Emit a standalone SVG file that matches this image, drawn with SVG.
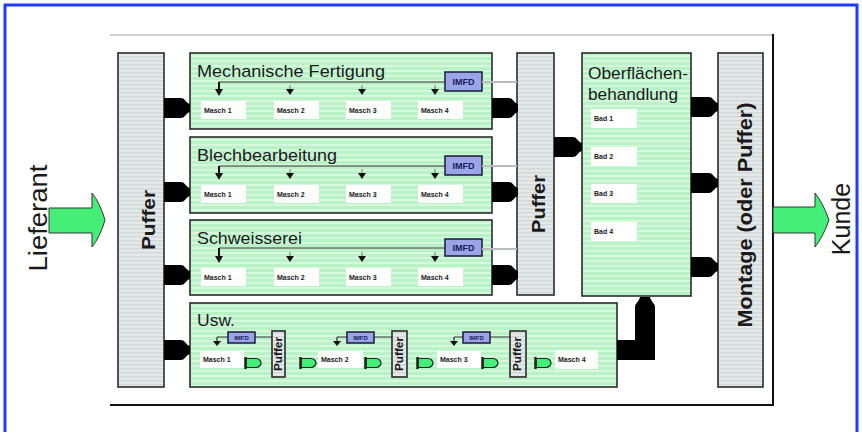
<svg xmlns="http://www.w3.org/2000/svg" width="862" height="432" viewBox="0 0 862 432">
<defs>
<pattern id="gstripe" width="6" height="5" patternUnits="userSpaceOnUse"><rect width="6" height="5" fill="#b9f2c7"/><rect width="6" height="2" fill="#d6f9de"/></pattern>
<pattern id="pstripe" width="6" height="4" patternUnits="userSpaceOnUse"><rect width="6" height="4" fill="#e4e8e8"/><rect width="6" height="1.5" fill="#d3d8d8"/></pattern>
<g id="gd"><path d="M1,-4.5 H11 C14,-4.5 16,-2 16,0 C16,2 14,4.5 11,4.5 H1 Z" fill="#44ee77" stroke="#222" stroke-width="1.2"/><path d="M0.5,-6 V6" stroke="#222" stroke-width="2.5"/></g>
<g id="ah"><path d="M0,-5 V0" stroke="#777" stroke-width="1"/><polygon points="-4,-1 4,-1 0,5" fill="#111"/></g>
</defs>
<style>
.blk{fill:url(#gstripe);stroke:#2b2b2b;stroke-width:1.6}
.puf{fill:url(#pstripe);stroke:#2b2b2b;stroke-width:1.6}
.t{font-family:"Liberation Sans",Arial,sans-serif;fill:#1a1a1a}
.title{font-size:17px}
.pt{font-weight:bold;text-anchor:middle}
.lbl{font-size:7px;font-weight:bold}
.mbox{fill:#fff}
.imfd{fill:#9aa4e6;stroke:#1a1a3a;stroke-width:1.5}
.imfdt{font-size:9px;font-weight:bold;fill:#1a1a60;text-anchor:middle}
.imfds{font-size:6px;font-weight:bold;fill:#1a1a60;text-anchor:middle}
.con{fill:#000}
.ln{stroke:#333;stroke-width:1;fill:none}
.gl{stroke:#b5bdbd;stroke-width:2;fill:none}
.arr{fill:#44ee77;stroke:#333;stroke-width:1}
</style>
<rect width="862" height="432" fill="#fff"/>
<rect x="5" y="5" width="852" height="432" fill="none" stroke="#1f3bff" stroke-width="3"/>

<g id="frame">
<line x1="110" y1="35" x2="773" y2="35" stroke="#d0d0d0" stroke-width="2"/>
<line x1="773" y1="34" x2="773" y2="405" stroke="#111" stroke-width="2"/>
<line x1="110" y1="405" x2="774" y2="405" stroke="#111" stroke-width="2"/>
</g>

<g id="lieferant">
<path class="arr" d="M49,208 H92 V193 Q100,203 105,220 Q100,237 92,247 V233 H49 Z"/>
<text class="t" font-size="25" text-anchor="middle" textLength="107" lengthAdjust="spacingAndGlyphs" transform="translate(47,218) rotate(-90)">Lieferant</text>
</g>

<g id="kunde">
<path class="arr" d="M773,207 H815 V193 Q823,203 829,220 Q823,237 815,247 V233 H773 Z"/>
<text class="t" font-size="25" text-anchor="middle" transform="translate(850,219) rotate(-90)">Kunde</text>
</g>

<g id="puffer-left">
<rect class="puf" x="118" y="53" width="46" height="334"/>
<text class="t pt" font-size="19" textLength="60" lengthAdjust="spacingAndGlyphs" transform="translate(155,220) rotate(-90)">Puffer</text>
</g>

<g id="mech">
<rect class="blk" x="190" y="53" width="302" height="76"/>
<text class="t title" x="197" y="77" textLength="188" lengthAdjust="spacingAndGlyphs">Mechanische Fertigung</text>
<line class="ln" x1="219" y1="82" x2="445" y2="82"/>
<rect class="imfd" x="445" y="72" width="37" height="19"/>
<text class="t imfdt" x="463.5" y="85">IMFD</text>
<path d="M219,82 V91" stroke="#111" stroke-width="2"/><polygon points="215,89 223,89 219,96" fill="#111"/>
<use href="#ah" x="290" y="90"/><use href="#ah" x="362" y="90"/><use href="#ah" x="435" y="90"/>
<rect class="mbox" x="201" y="101" width="45" height="18"/><text class="t lbl" x="204" y="113">Masch 1</text>
<rect class="mbox" x="274" y="101" width="45" height="18"/><text class="t lbl" x="277" y="113">Masch 2</text>
<rect class="mbox" x="346" y="101" width="45" height="18"/><text class="t lbl" x="349" y="113">Masch 3</text>
<rect class="mbox" x="418" y="101" width="45" height="18"/><text class="t lbl" x="421" y="113">Masch 4</text>
</g>

<g id="blech" transform="translate(0,84)">
<rect class="blk" x="190" y="53" width="302" height="76"/>
<text class="t title" x="197" y="77" textLength="140" lengthAdjust="spacingAndGlyphs">Blechbearbeitung</text>
<line class="ln" x1="219" y1="82" x2="445" y2="82"/>
<rect class="imfd" x="445" y="72" width="37" height="19"/>
<text class="t imfdt" x="463.5" y="85">IMFD</text>
<path d="M219,82 V91" stroke="#111" stroke-width="2"/><polygon points="215,89 223,89 219,96" fill="#111"/>
<use href="#ah" x="290" y="90"/><use href="#ah" x="362" y="90"/><use href="#ah" x="435" y="90"/>
<rect class="mbox" x="201" y="101" width="45" height="18"/><text class="t lbl" x="204" y="113">Masch 1</text>
<rect class="mbox" x="274" y="101" width="45" height="18"/><text class="t lbl" x="277" y="113">Masch 2</text>
<rect class="mbox" x="346" y="101" width="45" height="18"/><text class="t lbl" x="349" y="113">Masch 3</text>
<rect class="mbox" x="418" y="101" width="45" height="18"/><text class="t lbl" x="421" y="113">Masch 4</text>
</g>

<g id="schweisserei" transform="translate(0,167)">
<rect class="blk" x="190" y="53" width="302" height="75"/>
<text class="t title" x="197" y="77" textLength="105" lengthAdjust="spacingAndGlyphs">Schweisserei</text>
<line class="ln" x1="219" y1="81" x2="445" y2="81"/>
<rect class="imfd" x="445" y="72" width="37" height="17"/>
<text class="t imfdt" x="463.5" y="84">IMFD</text>
<path d="M219,81 V91" stroke="#111" stroke-width="2"/><polygon points="215,89 223,89 219,96" fill="#111"/>
<use href="#ah" x="290" y="90"/><use href="#ah" x="362" y="90"/><use href="#ah" x="435" y="90"/>
<rect class="mbox" x="201" y="101" width="45" height="18"/><text class="t lbl" x="204" y="113">Masch 1</text>
<rect class="mbox" x="274" y="101" width="45" height="18"/><text class="t lbl" x="277" y="113">Masch 2</text>
<rect class="mbox" x="346" y="101" width="45" height="18"/><text class="t lbl" x="349" y="113">Masch 3</text>
<rect class="mbox" x="418" y="101" width="45" height="18"/><text class="t lbl" x="421" y="113">Masch 4</text>
</g>

<g id="usw">
<rect class="blk" x="190" y="303" width="427" height="84"/>
<text class="t title" x="197" y="326" textLength="38" lengthAdjust="spacingAndGlyphs">Usw.</text>
<path class="ln" d="M217,337 H228 M255,337 H272 M337,337 H347 M374,337 H392 M454,337 H463 M490,337 H510" stroke-width="1.3"/>
<path d="M217,337 V342 M337,337 V342 M454,337 V342" stroke="#111" stroke-width="1"/>
<polygon points="213,341 221,341 217,346" fill="#111"/>
<polygon points="333,341 341,341 337,346" fill="#111"/>
<polygon points="450,341 458,341 454,346" fill="#111"/>
<rect class="imfd" x="228" y="332" width="27" height="11"/><text class="t imfds" x="241.5" y="340">IMFD</text>
<rect class="imfd" x="347" y="332" width="27" height="11"/><text class="t imfds" x="360.5" y="340">IMFD</text>
<rect class="imfd" x="463" y="332" width="27" height="11"/><text class="t imfds" x="476.5" y="340">IMFD</text>
<rect class="puf" x="272" y="331" width="13" height="46"/>
<text class="t pt" font-size="10" textLength="34" lengthAdjust="spacingAndGlyphs" transform="translate(282,354) rotate(-90)">Puffer</text>
<rect class="puf" x="392" y="331" width="15" height="46"/>
<text class="t pt" font-size="10" textLength="34" lengthAdjust="spacingAndGlyphs" transform="translate(403,354) rotate(-90)">Puffer</text>
<rect class="puf" x="510" y="331" width="16" height="46"/>
<text class="t pt" font-size="10" textLength="34" lengthAdjust="spacingAndGlyphs" transform="translate(521,354) rotate(-90)">Puffer</text>
<rect class="mbox" x="200" y="351" width="44" height="17"/><text class="t lbl" x="203" y="362">Masch 1</text>
<rect class="mbox" x="318" y="351" width="45" height="17"/><text class="t lbl" x="321" y="362">Masch 2</text>
<rect class="mbox" x="437" y="351" width="44" height="17"/><text class="t lbl" x="440" y="362">Masch 3</text>
<rect class="mbox" x="555" y="350" width="43" height="19"/><text class="t lbl" x="558" y="362">Masch 4</text>
<use href="#gd" x="245" y="363"/><use href="#gd" x="300" y="363"/>
<use href="#gd" x="365" y="363"/><use href="#gd" x="417" y="363"/>
<use href="#gd" x="482" y="363"/><use href="#gd" x="535" y="363"/>
</g>

<g id="puffer-mid">
<rect class="puf" x="517" y="53" width="37" height="242"/>
<text class="t pt" font-size="19" textLength="58" lengthAdjust="spacingAndGlyphs" transform="translate(545,204) rotate(-90)">Puffer</text>
</g>

<g id="oberflaeche">
<rect class="blk" x="582" y="53" width="109" height="243"/>
<text class="t title" x="588" y="79" textLength="100" lengthAdjust="spacingAndGlyphs">Oberflächen-</text>
<text class="t title" x="588" y="100" textLength="90" lengthAdjust="spacingAndGlyphs">behandlung</text>
<rect class="mbox" x="591" y="109" width="46" height="19"/><text class="t lbl" x="594" y="121">Bad 1</text>
<rect class="mbox" x="591" y="147" width="46" height="19"/><text class="t lbl" x="594" y="159">Bad 2</text>
<rect class="mbox" x="591" y="184" width="46" height="19"/><text class="t lbl" x="594" y="196">Bad 3</text>
<rect class="mbox" x="591" y="222" width="46" height="19"/><text class="t lbl" x="594" y="234">Bad 4</text>
</g>

<g id="montage">
<rect class="puf" x="718" y="53" width="45" height="334"/>
<text class="t pt" font-size="21" textLength="225" lengthAdjust="spacingAndGlyphs" transform="translate(752,215) rotate(-90)">Montage (oder Puffer)</text>
</g>

<g id="connectors">
<path class="gl" d="M482,82 H517 M482,166 H517 M482,249 H517"/>
<path class="con" d="M164,98 H181 C185,98 186,103 190,104 V112 C186,113 185,118 181,118 H164 Z"/>
<path class="con" d="M164,182 H181 C185,182 186,187 190,188 V196 C186,197 185,202 181,202 H164 Z"/>
<path class="con" d="M164,265 H181 C185,265 186,270 190,271 V279 C186,280 185,285 181,285 H164 Z"/>
<path class="con" d="M164,340 H181 C185,340 186,345 190,346 V354 C186,355 185,360 181,360 H164 Z"/>
<path class="con" d="M492,98 H509 C513,98 514,103 518,104 V112 C514,113 513,118 509,118 H492 Z"/>
<path class="con" d="M492,182 H509 C513,182 514,187 518,188 V196 C514,197 513,202 509,202 H492 Z"/>
<path class="con" d="M492,265 H509 C513,265 514,270 518,271 V279 C514,280 513,285 509,285 H492 Z"/>
<path class="con" d="M554,137 H573 C577,137 578,142 582,143 V151 C578,152 577,157 573,157 H554 Z"/>
<path class="con" d="M691,97 H709 C713,97 714,102 718,103 V111 C714,112 713,117 709,117 H691 Z"/>
<path class="con" d="M691,173 H709 C713,173 714,178 718,179 V187 C714,188 713,193 709,193 H691 Z"/>
<path class="con" d="M691,257 H709 C713,257 714,262 718,263 V271 C714,272 713,277 709,277 H691 Z"/>
<path class="con" d="M617,340 H635 V307 C635,303 639,302 640,297 H650 C651,302 655,303 655,307 V360 H617 Z"/>
</g>
</svg>
